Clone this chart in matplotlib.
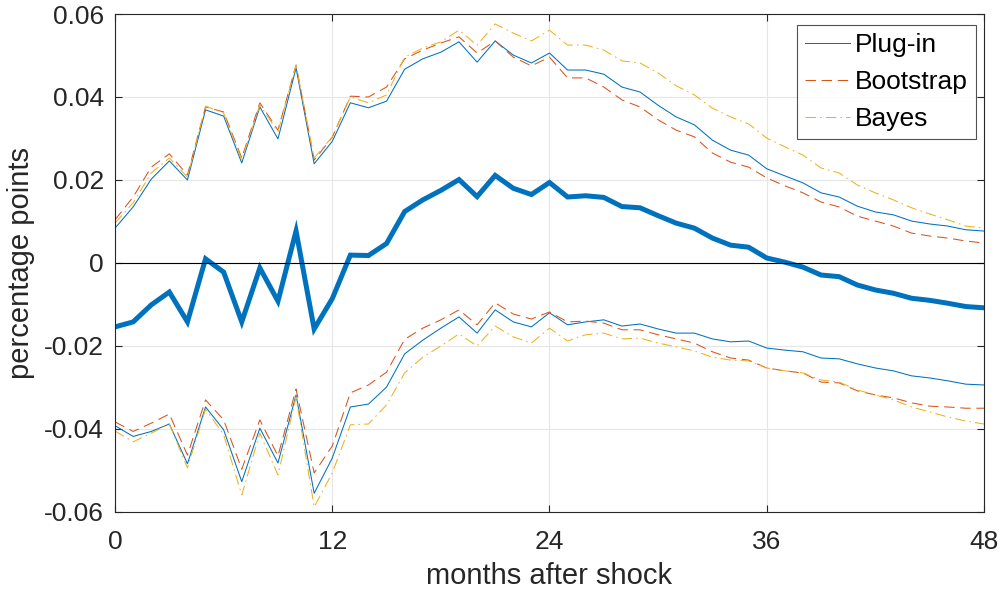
import numpy as np
import matplotlib
matplotlib.use("Agg")
import matplotlib.pyplot as plt

plt.rcParams['font.family'] = ['Liberation Sans', 'DejaVu Sans']

months = np.arange(49)

# point estimate (thick line)
irf = [-0.0154, -0.0142, -0.0101, -0.0070, -0.0142, 0.0010, -0.0022, -0.0142, -0.0012, -0.0092,
       0.0077, -0.0159, -0.0086, 0.0019, 0.0018, 0.0047, 0.0124, 0.0152, 0.0175, 0.0201,
       0.0160, 0.0211, 0.0180, 0.0165, 0.0194, 0.0159, 0.0162, 0.0158, 0.0136, 0.0133,
       0.0114, 0.0096, 0.0084, 0.0060, 0.0043, 0.0038, 0.0012, 0.0002, -0.0010, -0.0029,
       -0.0033, -0.0053, -0.0065, -0.0073, -0.0085, -0.0090, -0.0097, -0.0105, -0.0108]

plugin_up = [0.0084, 0.0135, 0.0202, 0.0246, 0.0200, 0.0369, 0.0354, 0.0241, 0.0376, 0.0299,
             0.0470, 0.0239, 0.0293, 0.0386, 0.0374, 0.0390, 0.0467, 0.0492, 0.0508, 0.0533,
             0.0484, 0.0535, 0.0501, 0.0482, 0.0506, 0.0465, 0.0465, 0.0455, 0.0424, 0.0412,
             0.0380, 0.0352, 0.0333, 0.0296, 0.0272, 0.0260, 0.0227, 0.0210, 0.0193, 0.0169,
             0.0159, 0.0137, 0.0123, 0.0116, 0.0101, 0.0094, 0.0089, 0.0080, 0.0077]
plugin_lo = [-0.0392, -0.0418, -0.0406, -0.0388, -0.0484, -0.0347, -0.0402, -0.0527, -0.0398, -0.0482,
             -0.0318, -0.0555, -0.0470, -0.0347, -0.0340, -0.0299, -0.0219, -0.0186, -0.0157, -0.0130,
             -0.0169, -0.0113, -0.0142, -0.0154, -0.0120, -0.0149, -0.0142, -0.0137, -0.0152, -0.0147,
             -0.0159, -0.0169, -0.0169, -0.0183, -0.0190, -0.0188, -0.0205, -0.0210, -0.0214, -0.0229,
             -0.0231, -0.0243, -0.0253, -0.0260, -0.0272, -0.0277, -0.0284, -0.0292, -0.0294]

boot_up = [0.0104, 0.0159, 0.0231, 0.0263, 0.0212, 0.0376, 0.0364, 0.0253, 0.0386, 0.0320,
           0.0477, 0.0248, 0.0303, 0.0402, 0.0400, 0.0424, 0.0492, 0.0513, 0.0530, 0.0545,
           0.0506, 0.0535, 0.0496, 0.0475, 0.0496, 0.0446, 0.0446, 0.0424, 0.0393, 0.0376,
           0.0345, 0.0320, 0.0304, 0.0265, 0.0243, 0.0231, 0.0205, 0.0186, 0.0169, 0.0147,
           0.0135, 0.0113, 0.0101, 0.0089, 0.0072, 0.0065, 0.0060, 0.0053, 0.0048]
boot_lo = [-0.0383, -0.0406, -0.0386, -0.0364, -0.0463, -0.0330, -0.0378, -0.0497, -0.0378, -0.0465,
           -0.0304, -0.0506, -0.0441, -0.0313, -0.0294, -0.0263, -0.0184, -0.0157, -0.0137, -0.0113,
           -0.0149, -0.0096, -0.0123, -0.0135, -0.0118, -0.0142, -0.0140, -0.0145, -0.0161, -0.0161,
           -0.0173, -0.0183, -0.0193, -0.0214, -0.0229, -0.0234, -0.0253, -0.0260, -0.0265, -0.0287,
           -0.0289, -0.0308, -0.0318, -0.0325, -0.0337, -0.0345, -0.0347, -0.0350, -0.0350]

bayes_up = [0.0096, 0.0145, 0.0217, 0.0253, 0.0207, 0.0378, 0.0361, 0.0248, 0.0381, 0.0316,
            0.0477, 0.0253, 0.0304, 0.0400, 0.0386, 0.0405, 0.0496, 0.0518, 0.0533, 0.0561,
            0.0525, 0.0576, 0.0554, 0.0535, 0.0561, 0.0525, 0.0525, 0.0513, 0.0487, 0.0482,
            0.0458, 0.0427, 0.0405, 0.0373, 0.0352, 0.0335, 0.0301, 0.0280, 0.0260, 0.0229,
            0.0217, 0.0188, 0.0169, 0.0152, 0.0133, 0.0118, 0.0104, 0.0089, 0.0084]
bayes_lo = [-0.0405, -0.0431, -0.0410, -0.0388, -0.0494, -0.0352, -0.0414, -0.0559, -0.0410, -0.0511,
            -0.0323, -0.0588, -0.0506, -0.0390, -0.0388, -0.0342, -0.0265, -0.0227, -0.0200, -0.0171,
            -0.0200, -0.0152, -0.0178, -0.0193, -0.0157, -0.0188, -0.0173, -0.0169, -0.0183, -0.0181,
            -0.0193, -0.0202, -0.0212, -0.0227, -0.0234, -0.0236, -0.0253, -0.0260, -0.0265, -0.0282,
            -0.0287, -0.0306, -0.0318, -0.0330, -0.0347, -0.0359, -0.0371, -0.0381, -0.0388]

xticks = [0, 12, 24, 36, 48]
yticks = [-0.06, -0.04, -0.02, 0, 0.02, 0.04, 0.06]
ytick_labels = ['-0.06', '-0.04', '-0.02', '0', '0.02', '0.04', '0.06']

c_blue = '#0072BD'
c_orange = '#D95319'
c_yellow = '#EDB120'
axcol = '#262626'
dash = (0, (10, 5.5))
dashdot = (0, (10, 4, 1.5, 4))

fig = plt.figure(figsize=(10.02, 5.96), dpi=100)
ax = fig.add_axes([0.1148, 0.141, 0.8672, 0.8355])

ax.plot(months, irf, color=c_blue, lw=3.6, solid_joinstyle='miter')
ax.axhline(0, color='black', lw=0.8)
l1, = ax.plot(months, plugin_up, color=c_blue, lw=0.75, label='Plug-in')
ax.plot(months, plugin_lo, color=c_blue, lw=0.75)
l2, = ax.plot(months, boot_up, color=c_orange, lw=0.75, ls=dash, label='Bootstrap')
ax.plot(months, boot_lo, color=c_orange, lw=0.75, ls=dash)
l3, = ax.plot(months, bayes_up, color=c_yellow, lw=0.75, ls=dashdot, label='Bayes')
ax.plot(months, bayes_lo, color=c_yellow, lw=0.75, ls=dashdot)

ax.set_xlim(0, 48)
ax.set_ylim(-0.06, 0.06)
ax.set_xticks(xticks)
ax.set_yticks(yticks)
ax.set_yticklabels(ytick_labels)
ax.grid(True, color='#e6e6e6', lw=0.8)
ax.set_axisbelow(True)
ax.tick_params(direction='in', length=5, width=0.8, colors=axcol, labelsize=19,
               top=True, right=True)
ax.tick_params(axis='x', pad=13)
ax.tick_params(axis='y', pad=8)
for s in ax.spines.values():
    s.set_color(axcol)
    s.set_linewidth(0.8)

ax.set_xlabel('months after shock', fontsize=21, color=axcol, va='top')
ax.set_ylabel('percentage points', fontsize=21, color=axcol)
ax.xaxis.set_label_coords(0.5, -0.100)
ax.yaxis.set_label_coords(-0.092, 0.5)

leg = ax.legend(handles=[l1, l2, l3], loc='upper right', bbox_to_anchor=(0.991, 0.978),
                fontsize=19, frameon=True, fancybox=False, edgecolor=axcol,
                handlelength=1.7, borderpad=0.3, labelspacing=0.5, handletextpad=0.2,
                borderaxespad=0)
leg.get_frame().set_linewidth(0.8)
for t in leg.get_texts():
    t.set_color('black')

fig.savefig('out.png', dpi=100)
